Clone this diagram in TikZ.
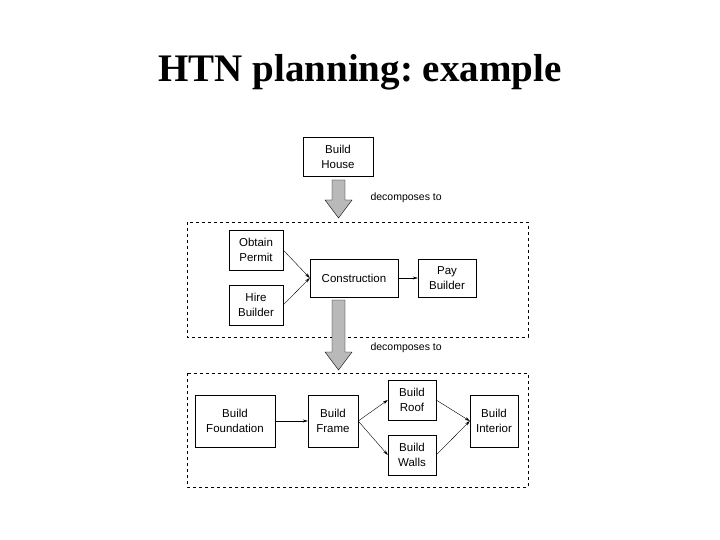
\documentclass[tikz,border=0pt]{standalone}
\usepackage{fontspec}
\setmainfont{Liberation Serif}
\setsansfont{Liberation Sans}
\usetikzlibrary{arrows.meta, positioning}
\frenchspacing

\begin{document}
\begin{tikzpicture}[x=1pt, y=-1pt,
    task/.style={rectangle, draw, thin, align=center, font=\sffamily\fontsize{11.5}{15}\selectfont, inner sep=2pt},
    link/.style={-{Stealth[length=5pt, width=3pt]}, thin},
    group/.style={draw, dashed, thin},
    bigarrow/.style={draw, fill=gray!55, thin},
    note/.style={font=\sffamily\fontsize{10.5}{12}\selectfont, anchor=west}
]
\useasboundingbox (0,0) rectangle (720,540);

\node[font=\bfseries\fontsize{39}{44}\selectfont] (title) at (360,72) {HTN planning: example};

% top task
\node[task, minimum width=70pt, minimum height=39pt] (house) at (338,157) {Build\\House};

% first decomposition
\draw[bigarrow] (332,180) -- (345,180) -- (345,200) -- (352,200) -- (338.5,218) -- (325,200) -- (332,200) -- cycle;
\node[note] (dec1) at (367,198) {decomposes to};
\draw[group] (187,222) rectangle (528,337);

\node[task, minimum width=54pt, minimum height=40pt] (permit) at (256,250) {Obtain\\Permit};
\node[task, minimum width=54pt, minimum height=40pt] (hire) at (256,305) {Hire\\Builder};
\node[task, minimum width=88pt, minimum height=38pt] (constr) at (354,278) {Construction};
\node[task, minimum width=58pt, minimum height=38pt] (pay) at (447,278) {Pay\\Builder};

\draw[link] (permit.east) -- (constr.west);
\draw[link] (hire.east) -- (constr.west);
\draw[link] (constr) -- (pay);

% second decomposition
\draw[bigarrow] (332,300) -- (345,300) -- (345,352) -- (352,352) -- (338.5,370) -- (325,352) -- (332,352) -- cycle;
\node[note] (dec2) at (367,348) {decomposes to};
\draw[group] (187,373) rectangle (528,487);

\node[task, minimum width=80pt, minimum height=52pt] (found) at (235,421) {Build\\Foundation};
\node[task, minimum width=50pt, minimum height=52pt] (frame) at (333,421) {Build\\Frame};
\node[task, minimum width=48pt, minimum height=40pt] (roof) at (412,400) {Build\\Roof};
\node[task, minimum width=48pt, minimum height=40pt] (walls) at (412,455) {Build\\Walls};
\node[task, minimum width=48pt, minimum height=52pt] (inter) at (494,421) {Build\\Interior};

\draw[link] (found) -- (frame);
\draw[link] (frame.east) -- (roof.west);
\draw[link] (frame.east) -- (walls.west);
\draw[link] (roof.east) -- (inter.west);
\draw[link] (walls.east) -- (inter.west);

\end{tikzpicture}
\end{document}
